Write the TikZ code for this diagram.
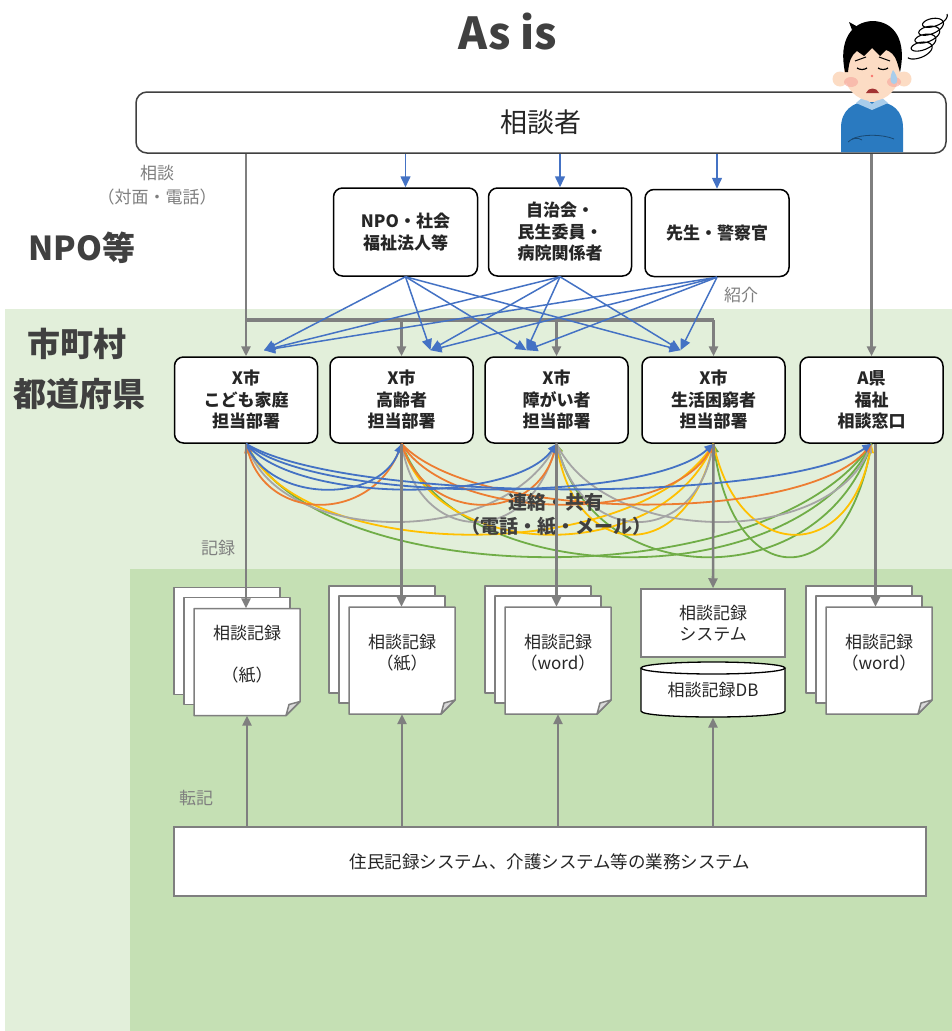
\documentclass[tikz,border=0pt]{standalone}
\usepackage{fontspec}
\setmainfont{Noto Sans CJK JP}
\usepackage{xcolor}
\usepackage{tikz}
\usetikzlibrary{positioning, calc, arrows.meta}

\definecolor{lightgreen}{HTML}{E2EFDA}
\definecolor{darkgreen}{HTML}{C5E0B4}
\definecolor{linegray}{HTML}{7F7F7F}
\definecolor{textgray}{HTML}{404040}
\definecolor{cblue}{HTML}{4472C4}
\definecolor{corange}{HTML}{ED7D31}
\definecolor{cgray}{HTML}{A5A5A5}
\definecolor{cyellow}{HTML}{FFC000}
\definecolor{cgreen}{HTML}{70AD47}
\definecolor{foldgray}{HTML}{D9D9D9}
\definecolor{skin}{HTML}{FCDCC4}
\definecolor{sweater}{HTML}{2A7AC0}
\definecolor{collar}{HTML}{A9CDEB}
\definecolor{cheek}{HTML}{F6A59C}

% a pile of three sheets, the front one with a folded corner
\newcommand\docpile[4]{%
  \draw[page] (#2-73,#3-74.5) rectangle (#2+33,#3+32.5);
  \draw[page] (#2-63,#3-64.5) rectangle (#2+43,#3+42.5);
  \draw[page] (#2-53,#3-53.5) -- (#2+53,#3-53.5) -- (#2+53,#3+39.5) -- (#2+39,#3+53.5) -- (#2-53,#3+53.5) -- cycle;
  \draw[page, fill=foldgray] (#2+53,#3+39.5) -- (#2+39,#3+53.5) -- (#2+42,#3+42.5) -- cycle;
  \node[sheet] (#1) at (#2,#3) {};
  \node[doctext] at ([yshift=8pt]#1.center) {#4};
}

\begin{document}
\begin{tikzpicture}[x=1pt, y=-1pt]
\tikzstyle{box}=[draw=black, line width=1.5pt, rounded corners=9pt, fill=white, align=center, inner sep=0pt, text=black!85, font=\fontsize{17}{21.5}\selectfont\bfseries]
\tikzstyle{note}=[align=center, text=linegray, font=\fontsize{17}{24}\selectfont]
\tikzstyle{region}=[align=center, text=textgray, font=\fontsize{33}{36}\selectfont\bfseries]
\tikzstyle{page}=[draw=linegray, line width=1.5pt, fill=white, line join=round]
\tikzstyle{sheet}=[minimum width=106pt, minimum height=107pt, inner sep=0pt]
\tikzstyle{doctext}=[align=center, text=black!85, font=\fontsize{17}{21.5}\selectfont]
\tikzstyle{feed}=[draw=linegray, line width=2.6pt, -{Triangle[length=10pt,width=9pt]}]
\tikzstyle{refer}=[draw=cblue, line width=1.5pt, -{Triangle[length=11pt,width=10pt]}]
\tikzstyle{share}=[line width=1.8pt, -{Triangle[length=9pt,width=8pt]}]

\useasboundingbox (0,0) rectangle (952,1031);
\fill[white] (0,0) rectangle (952,1031);

% backgrounds
\fill[lightgreen] (5,309) rectangle (952,1031);
\fill[darkgreen] (130,569) rectangle (952,1031);

\node[text=textgray, font=\fontsize{44}{48}\selectfont\bfseries] (title) at (508,32) {As is};

% top row
\node[box, draw=textgray, rounded corners=11pt, minimum width=810pt, minimum height=61pt, font=\fontsize{27}{30}\selectfont] (cons) at (541,122.5) {相談者};

\node[box, minimum width=144pt, minimum height=88pt] (npo1) at (405.5,232) {NPO・社会\\福祉法人等};
\node[box, minimum width=143pt, minimum height=88pt] (npo2) at (560,232) {自治会・\\民生委員・\\病院関係者};
\node[box, minimum width=144pt, minimum height=87pt] (npo3) at (717,233) {先生・警察官};

\node[box, minimum width=143pt, minimum height=86pt] (dep1) at (246,400) {X市\\こども家庭\\担当部署};
\node[box, minimum width=143pt, minimum height=86pt] (dep2) at (401.5,400) {X市\\高齢者\\担当部署};
\node[box, minimum width=143pt, minimum height=86pt] (dep3) at (556.5,400) {X市\\障がい者\\担当部署};
\node[box, minimum width=143pt, minimum height=86pt] (dep4) at (713.5,400) {X市\\生活困窮者\\担当部署};
\node[box, minimum width=143pt, minimum height=86pt] (dep5) at (871.5,400) {A県\\福祉\\相談窓口};

% labels
\node[note] (talk) at (157,185) {相談\\（対面・電話）};
\node[note] (intro) at (741,295) {紹介};
\node[note] (rec) at (218,548) {記録};
\node[note] (copy) at (196,798) {転記};
\node[region] (npoarea) at (82,248) {NPO等};
\node[region] (city) at (77,344) {市町村};
\node[region] (pref) at (79,394) {都道府県};

% consulter to NPO side
\foreach \n in {npo1,npo2,npo3}
  \draw[refer] (cons.south -| \n) -- (\n.north);

% consulter straight to the offices
\coordinate (fork) at (246,320);
\draw[feed] (cons.south -| dep1) -- (dep1.north);
\draw[draw=linegray, line width=4pt] (fork) -- (fork -| dep4);
\foreach \d in {dep2,dep3,dep4}
  \draw[feed] (fork -| \d) -- (\d.north);
\draw[feed] (cons.south -| dep5) -- (dep5.north);

% referrals
\coordinate (in1) at ([xshift=18pt,yshift=6pt]dep1.north);
\coordinate (in2) at ([xshift=29pt,yshift=6pt]dep2.north);
\coordinate (in3) at ([xshift=-30pt,yshift=6pt]dep3.north);
\coordinate (in4) at ([xshift=-33pt,yshift=6pt]dep4.north);
\foreach \s in {npo1,npo2,npo3}
  \foreach \t in {in1,in2,in3,in4}
    \draw[refer] (\s.south) -- (\t);

% records
\docpile{d1}{247}{662}{相談記録\\[21pt]（紙）}
\docpile{d2}{402}{660.5}{相談記録\\（紙）}
\docpile{d3}{558}{660.5}{相談記録\\（word）}
\docpile{d5}{879}{660.5}{相談記録\\（word）}

\node[draw=linegray, line width=1.5pt, fill=white, minimum width=144pt, minimum height=68pt, align=center, text=black!85, font=\fontsize{17}{21}\selectfont] (recsys) at (713,623) {相談記録\\システム};
\draw[draw=black, line width=1.3pt, fill=white] (641,668) -- (641,711) .. controls (641,719) and (785,719) .. (785,711) -- (785,668);
\draw[draw=black, line width=1.3pt, fill=white] (713,668) ellipse [x radius=72, y radius=6];
\node[doctext, minimum width=144pt, minimum height=55pt] (db) at (713,690) {相談記録DB};

\node[draw=linegray, line width=2pt, fill=white, minimum width=752pt, minimum height=69pt, text=black!85, font=\fontsize{17.5}{20}\selectfont] (biz) at (550,861.5) {住民記録システム、介護システム等の業務システム};

% contact between offices
\foreach \s/\col/\h in {5/cgreen/150, 4/cyellow/120, 3/cgray/103, 2/corange/80, 1/cblue/60}{
  \foreach \t in {1,...,5}{
    \ifnum\s=\t\relax\else
      \draw[share, draw=\col] (dep\s.south) .. controls ($(dep\s.south)!0.16!(dep\t.south)+(0,\h)$) and ($(dep\s.south)!0.86!(dep\t.south)+(0,\h)$) .. (dep\t.south);
    \fi
  }
}
\node[align=center, text=textgray, font=\fontsize{19}{24}\selectfont\bfseries] (share) at (556,515) {連絡・共有\\（電話・紙・メール）};

% writing records
\draw[feed] (dep1.south) -- (dep1.south |- d1.north);
\draw[feed] (dep2.south) -- (dep2.south |- d2.north);
\draw[feed] (dep3.south) -- (dep3.south |- d3.north);
\draw[feed] (dep4.south) -- (recsys.north);
\draw[feed] ([xshift=4pt]dep5.south) -- ([xshift=4pt]dep5.south |- d5.north);

% transcription from the business system
\draw[feed] (biz.north -| d1) -- (d1.south);
\draw[feed] (biz.north -| d2) -- (d2.south);
\draw[feed] (biz.north -| d3) -- (d3.south);
\draw[feed] (biz.north -| db) -- (db.south);

% the worried consulter
\fill[sweater] (841,152) -- (841,128) .. controls (841,110) and (853,103) .. (866,101) -- (878,101) .. controls (892,103) and (903,110) .. (903,128) -- (903,152) -- cycle;
\fill[skin] (864,90) rectangle (880,102);
\fill[collar] (856,103) -- (863,97) -- (872,104) -- (881,97) -- (888,103) -- (872,110) -- cycle;
\draw[sweater!60!black, line width=0.8pt] (852,139) .. controls (862,134) and (882,134) .. (894,139);
\draw[sweater!60!black, line width=0.8pt] (848,142) .. controls (852,138) and (858,137) .. (862,140);
\fill[skin] (840,79) circle (7.5);
\fill[skin] (904,79) circle (7.5);
\fill[skin] (872,71) ellipse [x radius=28, y radius=30];
\fill[black] (845,72) .. controls (838,40) and (852,22) .. (872,21) .. controls (894,21) and (907,40) .. (900,72)
  -- (897,62) .. controls (895,55) and (890,51) .. (886,50) -- (880,56) -- (872,48) -- (864,56) -- (857,51)
  .. controls (851,55) and (849,62) .. (848,72) -- cycle;
\fill[black] (852,30) -- (849,22) -- (858,27) -- cycle;
\fill[cheek, opacity=0.6] (851,82) ellipse [x radius=7, y radius=5];
\fill[cheek, opacity=0.6] (894,82) ellipse [x radius=7, y radius=5];
\draw[line width=1pt] (855,61) -- (866,57);
\draw[line width=1pt] (879,57) -- (890,61);
\draw[line width=1.2pt] (857,68) .. controls (860,70) and (864,70) .. (867,68);
\draw[line width=1.2pt] (878,68) .. controls (881,70) and (885,70) .. (888,68);
\fill[cheek!70!red] (872,76) circle (1.4);
\fill[red!55!black!80] (866,93) .. controls (868,87) and (877,87) .. (879,93) -- cycle;
\fill[collar] (893,70) .. controls (889,78) and (890,84) .. (894,84) .. controls (898,84) and (899,78) .. (893,70);
\draw[line width=1.1pt] plot[smooth, domain=0:1620, samples=180, variable=\t] ({936-0.0105*\t+11*cos(\t)+3*sin(\t)}, {18+0.022*\t-4*cos(\t)+5*sin(\t)});
\end{tikzpicture}
\end{document}
